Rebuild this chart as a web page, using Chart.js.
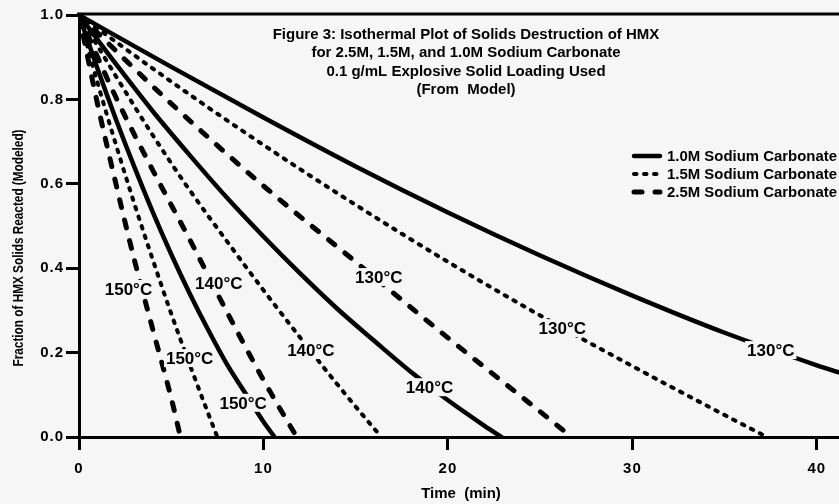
<!DOCTYPE html>
<html>
<head>
<meta charset="utf-8">
<script src="https://cdn.jsdelivr.net/npm/chart.js@4.4.0/dist/chart.umd.min.js"></script>
<style>
  html, body { margin: 0; padding: 0; background: #f6f6f6; }
  canvas { display: block; }
</style>
</head>
<body>
<canvas id="hmxChart" width="839" height="504"></canvas>
<script>
// time (min) / fraction pairs, one pair of arrays per curve
// 1.0M = solid, 1.5M = dotted, 2.5M = dashed
const solid130T  = [0, 5, 10, 15, 20, 25, 30, 35, 40, 41.2];
const solid130V  = [1.0, 0.877, 0.757, 0.641, 0.532, 0.43, 0.335, 0.247, 0.17, 0.153];
const dotted130T = [0, 5, 10, 15, 20, 25, 30, 35, 37.3];
const dotted130V = [1.0, 0.842, 0.692, 0.55, 0.415, 0.288, 0.168, 0.052, 0];
const dashed130T = [0, 5, 10, 15, 20, 25, 26.7];
const dashed130V = [1.0, 0.79, 0.595, 0.415, 0.235, 0.06, 0];

const solid140T  = [0, 2, 4, 6, 8, 10, 12, 14, 16, 18, 20, 22, 22.9];
const solid140V  = [1.0, 0.884, 0.772, 0.668, 0.568, 0.475, 0.387, 0.304, 0.228, 0.154, 0.087, 0.026, 0];
const dotted140T = [0, 2, 4, 6, 8, 10, 12, 14, 16, 16.4];
const dotted140V = [1.0, 0.855, 0.715, 0.585, 0.465, 0.348, 0.235, 0.125, 0.02, 0];
const dashed140T = [0, 2, 4, 6, 8, 10, 11.8];
const dashed140V = [1.0, 0.805, 0.632, 0.468, 0.298, 0.135, 0];

const solid150T  = [0, 1, 2, 3, 4, 5, 6, 7, 8, 9, 10, 10.6];
const solid150V  = [1.0, 0.873, 0.753, 0.64, 0.533, 0.433, 0.34, 0.254, 0.174, 0.105, 0.036, 0];
const dotted150T = [0, 1, 2, 3, 4, 5, 6, 7, 7.5];
const dotted150V = [1.0, 0.84, 0.693, 0.553, 0.42, 0.292, 0.172, 0.056, 0];
const dashed150T = [0, 1, 2, 3, 4, 5, 5.5];
const dashed150V = [1.0, 0.79, 0.6, 0.42, 0.255, 0.092, 0];

const xTickValues = [0, 10, 20, 30, 40];
const yTickValues = [0, 0.2, 0.4, 0.6, 0.8, 1.0];

const titleLines = [
  "Figure 3: Isothermal Plot of Solids Destruction of HMX",
  "for 2.5M, 1.5M, and 1.0M Sodium Carbonate",
  "0.1 g/mL Explosive Solid Loading Used",
  "(From  Model)"
];
const legendLabels = ["1.0M Sodium Carbonate", "1.5M Sodium Carbonate", "2.5M Sodium Carbonate"];

// temperature labels sitting on the curves (time, fraction)
const tempLabels = ["150°C", "150°C", "150°C", "140°C", "140°C", "140°C", "130°C", "130°C", "130°C"];
const tempLabelT = [2.68, 6.0, 8.9, 7.58, 12.57, 19.0, 16.25, 26.2, 37.5];
const tempLabelV = [0.351, 0.187, 0.081, 0.365, 0.206, 0.118, 0.379, 0.258, 0.206];

const BG = "#f6f6f6";
const FONT = "'Liberation Sans', Arial, sans-serif";

const lineStyles = {
  solid:  { borderWidth: 4.5, borderDash: [],       borderCapStyle: "round" },
  dotted: { borderWidth: 4,   borderDash: [2.5, 7.5], borderCapStyle: "round" },
  dashed: { borderWidth: 5,   borderDash: [8, 13],  borderCapStyle: "round" }
};

function series(T, V, style) {
  return Object.assign({
    data: T.map((t, i) => ({ x: t, y: V[i] })),
    borderColor: "#000",
    pointRadius: 0,
    fill: false,
    cubicInterpolationMode: "monotone"
  }, lineStyles[style]);
}

const decor = {
  id: "decor",
  beforeDraw(chart) { chart.ctx.letterSpacing = "1px"; },
  afterDatasetsDraw(chart) {
    const { ctx, chartArea: a, scales: { x, y } } = chart;
    ctx.save();
    ctx.letterSpacing = "0px";
    ctx.fillStyle = "#000";
    ctx.strokeStyle = "#000";

    // top frame line
    ctx.lineWidth = 3;
    ctx.beginPath();
    ctx.moveTo(a.left - 2, a.top - 1);
    ctx.lineTo(a.right, a.top - 1);
    ctx.stroke();

    // temperature labels, blanking the line under them
    ctx.font = "bold 17px " + FONT;
    ctx.textAlign = "center";
    ctx.textBaseline = "middle";
    tempLabels.forEach((txt, i) => {
      const px = x.getPixelForValue(tempLabelT[i]);
      const py = y.getPixelForValue(tempLabelV[i]);
      const w = ctx.measureText(txt).width;
      ctx.fillStyle = BG;
      ctx.fillRect(px - w / 2 - 2, py - 9, w + 4, 18);
      ctx.fillStyle = "#000";
      ctx.fillText(txt, px, py + 1);
    });

    // title block
    ctx.font = "bold 15px " + FONT;
    titleLines.forEach((txt, i) => ctx.fillText(txt, 466, 35 + i * 18.3));

    // legend
    const styles = ["solid", "dotted", "dashed"];
    ctx.textAlign = "left";
    legendLabels.forEach((txt, i) => {
      const ly = 156 + i * 18;
      const st = lineStyles[styles[i]];
      ctx.save();
      ctx.lineWidth = st.borderWidth;
      ctx.setLineDash(st.borderDash);
      ctx.lineCap = st.borderCapStyle;
      ctx.beginPath();
      ctx.moveTo(634, ly);
      ctx.lineTo(660, ly);
      ctx.stroke();
      ctx.restore();
      ctx.font = "bold 15px " + FONT;
      ctx.fillText(txt, 667, ly + 1, 170);
    });

    // axis titles
    ctx.textAlign = "center";
    ctx.fillText("Time  (min)", 461, 494);
    ctx.translate(19, 248);
    ctx.rotate(-Math.PI / 2);
    ctx.font = "bold 14px " + FONT;
    ctx.fillText("Fraction of HMX Solids Reacted (Modeled)", 0, 0, 237);
    ctx.restore();
  },
  afterDraw(chart) { chart.ctx.letterSpacing = "0px"; }
};

new Chart(document.getElementById("hmxChart"), {
  type: "line",
  data: {
    datasets: [
      series(solid130T, solid130V, "solid"),
      series(dotted130T, dotted130V, "dotted"),
      series(dashed130T, dashed130V, "dashed"),
      series(solid140T, solid140V, "solid"),
      series(dotted140T, dotted140V, "dotted"),
      series(dashed140T, dashed140V, "dashed"),
      series(solid150T, solid150V, "solid"),
      series(dotted150T, dotted150V, "dotted"),
      series(dashed150T, dashed150V, "dashed")
    ]
  },
  options: {
    responsive: false,
    animation: false,
    layout: { padding: { top: 15, right: 0, bottom: 0, left: 0 } },
    plugins: { legend: { display: false }, tooltip: { enabled: false } },
    scales: {
      x: {
        type: "linear",
        min: 0,
        max: 41.2,
        afterBuildTicks: s => { s.ticks = xTickValues.map(v => ({ value: v })); },
        afterFit: s => { s.height = 67; },
        grid: { drawOnChartArea: false, drawTicks: true, tickLength: 13, tickWidth: 3, tickColor: "#000" },
        border: { display: true, color: "#000", width: 3 },
        ticks: { color: "#000", padding: 10, font: { family: FONT, size: 15, weight: "bold" } }
      },
      y: {
        min: 0,
        max: 1.0,
        afterBuildTicks: s => { s.ticks = yTickValues.map(v => ({ value: v })); },
        afterFit: s => { s.width = 79; },
        grid: { drawOnChartArea: false, drawTicks: true, tickLength: 13, tickWidth: 3, tickColor: "#000" },
        border: { display: true, color: "#000", width: 3 },
        ticks: {
          color: "#000",
          padding: 2,
          font: { family: FONT, size: 15, weight: "bold" },
          callback: v => v.toFixed(1)
        }
      }
    }
  },
  plugins: [decor]
});
</script>
</body>
</html>
